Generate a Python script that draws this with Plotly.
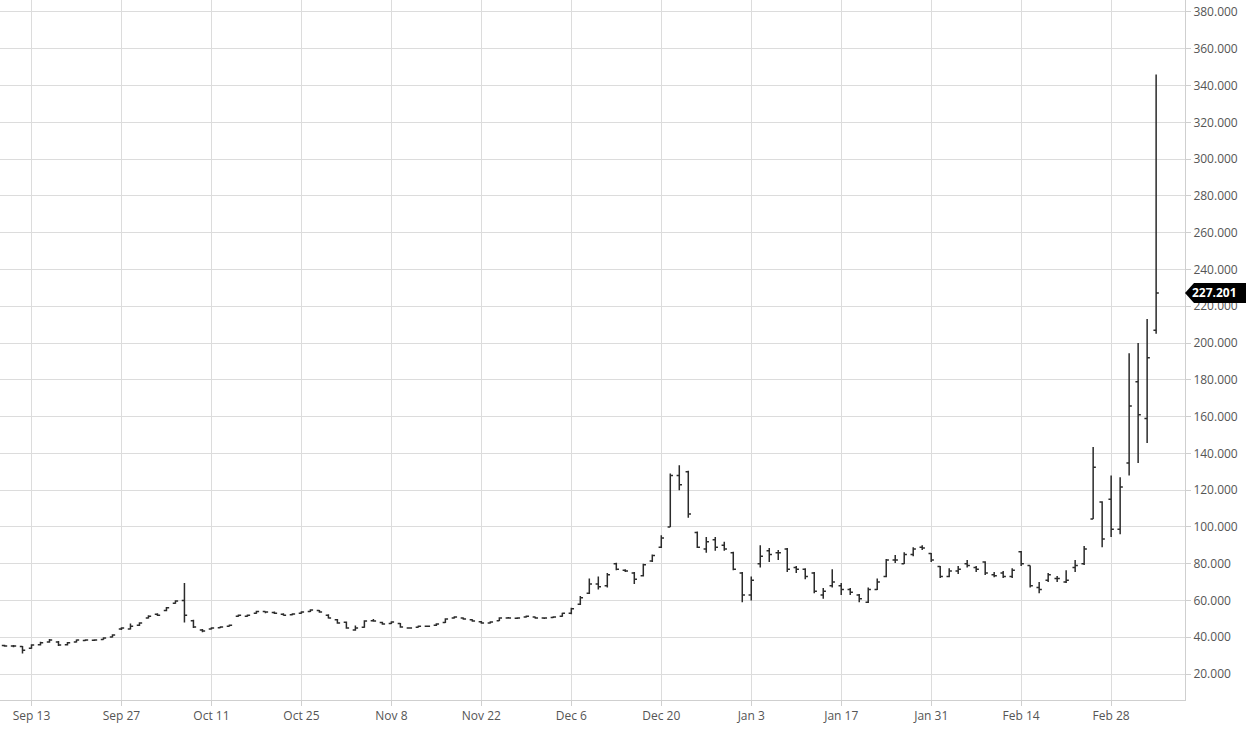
import pandas as pd
import plotly.graph_objects as go

dates = pd.bdate_range("2021-09-08", "2022-03-07")

opens = [35.5, 35.2, 35, 34, 36, 37.5, 37.5, 36, 37.5, 38.3, 38.4, 38.8, 40.2, 44.5, 44.5, 46.5, 50.5, 52.5, 54.5, 58.5,
         60, 49, 44, 44.5, 45.2, 46, 51.5, 51.5, 53, 54, 53.5, 52.5, 52.3, 53, 54, 54.5, 52, 49.5, 48.2, 44,
         45.5, 49, 48, 47.5, 47.5, 45, 45.5, 46, 46.5, 48, 50.5, 50.5, 49.5, 48.5, 47.8, 49, 50.5, 50.3, 51, 51,
         50.5, 50.8, 51.5, 53, 58, 64, 69, 68, 80, 76.5, 75, 73.5, 81.5, 89, 100, 128, 130, 97, 88, 93,
         90, 86, 75, 63, 80, 87, 86, 88, 78, 77, 75, 63, 68, 68, 66, 63, 59, 66, 73, 82,
         80, 85, 89, 85.5, 78.5, 73, 76, 80, 78, 81, 74, 75, 73, 86.5, 79, 67, 71, 72, 70, 78,
         80, 104.3, 113.5, 115, 98.8, 134.7, 179, 159, 207]
highs = [36, 35.8, 35.3, 36.2, 37.6, 39, 38, 37.4, 38.8, 38.9, 38.9, 40, 41.6, 45.4, 47.5, 48.2, 52, 53, 56.4, 60.2,
         69.5, 49.5, 44.5, 45.4, 46, 47, 52.4, 52.4, 54.4, 54.2, 54, 53, 53, 54.1, 55.2, 54.8, 52.5, 50, 48.6, 46.4,
         49.2, 50, 48.4, 48.7, 47.8, 45.4, 46.4, 46.4, 47.6, 50.3, 51.4, 50.8, 49.8, 48.8, 48.7, 50.9, 51, 50.9, 51.9, 51.2,
         50.9, 51.4, 53.4, 56, 62.5, 72, 73, 75, 80.5, 77, 75.5, 80, 85, 95.5, 129, 133.6, 130.5, 97.5, 94.5, 94.5,
         92, 86.5, 75.5, 73, 90, 88.5, 87.5, 88.5, 78.7, 77.6, 75.5, 66.8, 77, 69.5, 66.8, 63.5, 67, 72, 82.5, 84.7,
         86.3, 89, 90, 85.8, 78.7, 77.6, 78.7, 82, 78.7, 81.4, 75.5, 76, 77.6, 86.9, 79, 70, 75, 73.3, 76.5, 82,
         89.6, 143.4, 114, 128, 127, 194.5, 200, 213, 346]
lows = [34.8, 34.6, 31.2, 33.8, 35.6, 37, 35.2, 35.6, 37.2, 38, 38, 38.6, 39.9, 44, 44.2, 46.2, 50.2, 51.6, 54.2, 58.2,
        48, 45, 42.8, 44.2, 45, 45.8, 51.2, 51.2, 52.8, 53, 52.6, 51.8, 52, 52.8, 53.8, 53.4, 50.2, 47.3, 44.6, 43.6,
        45.2, 48.4, 46.8, 47.2, 45.2, 44.6, 45.3, 45.6, 46.2, 47.8, 50.2, 49.5, 48.4, 47.3, 47.5, 48.8, 50.1, 50, 50.8, 50.1,
        50, 50.5, 51.2, 52.5, 57.5, 63.5, 66, 67, 76.5, 75.5, 69, 73, 81, 88.5, 100, 120, 105, 88.5, 86, 87,
        87, 76.5, 59, 60, 78, 81, 82, 75.5, 75, 71.6, 64, 61, 67, 63, 63, 59, 58.6, 65.7, 72.7, 80.4,
        79.8, 84, 87.4, 81, 72.2, 72.7, 74.4, 78, 75.5, 73.8, 72.7, 72.2, 72.2, 78.7, 67, 64, 70, 70, 69.5, 75.5,
        79.3, 104.3, 89, 94.5, 96, 128, 134.7, 145.6, 205]
closes = [35.2, 35.2, 33, 35.8, 37, 38.5, 35.8, 37, 38.5, 38.5, 38.5, 39.6, 41.2, 45, 46, 47.7, 51.5, 52, 56, 59.7,
          52, 45.6, 43.4, 45, 45.6, 46.6, 52, 52, 54, 53.7, 53, 52, 52.6, 53.7, 54.8, 53.7, 50.5, 47.7, 45, 45,
          48.8, 48.8, 47.2, 48.3, 45.6, 45, 46, 46, 47.2, 49.9, 51, 49.9, 48.8, 47.7, 48.3, 50.5, 50.5, 50.5, 51.5, 50.5,
          50.5, 51, 53, 55.5, 61.5, 69, 67.5, 74, 77, 76, 71.5, 79.5, 84.5, 94, 128, 123, 107, 89, 92, 89,
          88, 77, 63, 71, 84, 85, 86, 77, 77, 73, 65, 65, 70, 66, 64.5, 61, 66, 70, 82, 82,
          85, 88, 88.5, 82, 73, 76, 77, 79, 77, 75, 73.5, 73, 76.5, 80, 68, 66, 74, 72, 71, 79,
          88, 132.5, 93.4, 98.8, 121.7, 165.7, 161, 192, 227.201]

tick_dates = pd.date_range("2021-09-13", "2022-02-28", freq="14D")
last_price = closes[-1]

bar_color = "#2b2b2b"
fig = go.Figure()
fig.add_trace(go.Ohlc(
    x=dates, open=opens, high=highs, low=lows, close=closes,
    increasing=dict(line=dict(color=bar_color, width=1.5)),
    decreasing=dict(line=dict(color=bar_color, width=1.5)),
    tickwidth=0.3, hoverinfo="skip",
))

fig.update_layout(
    width=1246, height=732,
    margin=dict(l=0, r=61, t=0, b=32, autoexpand=False),
    plot_bgcolor="white", paper_bgcolor="white",
    showlegend=False,
    font=dict(family="Open Sans", size=12, color="#555"),
    xaxis=dict(
        automargin=False,
        rangeslider=dict(visible=False),
        rangebreaks=[dict(bounds=["sat", "mon"])],
        range=["2021-09-07 12:00", "2022-03-10 05:00"],
        tickvals=tick_dates, ticktext=[d.strftime("%b %-d") for d in tick_dates],
        showgrid=True, gridcolor="#dcdcdc", gridwidth=1,
        showline=True, linecolor="#cfcfcf",
        ticks="outside", ticklen=5, tickcolor="#cfcfcf",
    ),
    yaxis=dict(
        automargin=False,
        side="right", range=[5.9, 386.5],
        tickvals=list(range(20, 381, 20)), tickformat=".3f",
        showgrid=True, gridcolor="#dcdcdc", gridwidth=1,
        showline=True, linecolor="#cfcfcf",
        ticks="outside", ticklen=5, tickcolor="#cfcfcf",
        zeroline=False,
    ),
)

# last price tag
fig.add_shape(
    type="path", xref="paper", yref="y",
    xsizemode="pixel", ysizemode="pixel", xanchor=1, yanchor=last_price,
    path="M 0,0 L 9,10 L 61,10 L 61,-10 L 9,-10 Z",
    fillcolor="black", line=dict(width=0),
)
fig.add_annotation(
    x=1, xref="paper", y=last_price, yref="y", xanchor="left", xshift=5,
    text="<b>%.3f</b>" % last_price, showarrow=False,
    font=dict(color="white", size=12, family="Open Sans"),
)

fig.write_html("out.html", config={"displayModeBar": False},
               post_script="document.body.style.margin='0';")
